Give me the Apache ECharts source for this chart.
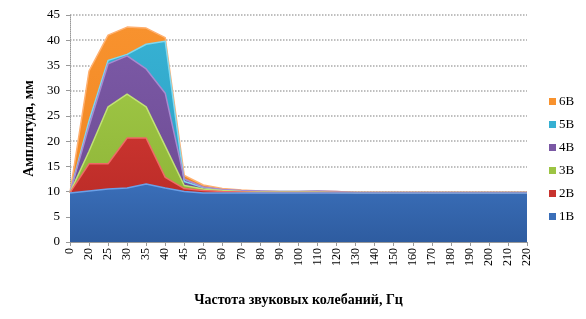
<!DOCTYPE html>
<html>
<head>
<meta charset="utf-8">
<script src="https://cdn.jsdelivr.net/npm/echarts@6/dist/echarts.min.js"></script>
<style>
    html, body { margin: 0; padding: 0; background: #fff; }
    #mychart { width: 586px; height: 319px; }
</style>
</head>
<body>
<div id="mychart"></div>
<script>
    var freq = ['0', '20', '25', '30', '35', '40', '45', '50', '60', '70', '80', '90', '100', '110', '120',
        '130', '140', '150', '160', '170', '180', '190', '200', '210', '220']
    var names = ['6В', '5В', '4В', '3В', '2В', '1В']
    var v6 = [9.8, 33.9, 41.0, 42.6, 42.4, 40.5, 13.2, 11.3, 10.6, 10.3, 10.1, 10.0, 10.0, 10.1, 10.0,
        9.8, 9.8, 9.8, 9.8, 9.8, 9.8, 9.8, 9.8, 9.8, 9.8]
    var v5 = [9.8, 24.0, 36.0, 37.2, 39.2, 39.8, 12.0, 10.8, 10.3, 10.1, 10.0, 10.0, 10.0, 10.0, 9.9,
        9.8, 9.8, 9.8, 9.8, 9.8, 9.8, 9.8, 9.8, 9.8, 9.8]
    var v4 = [9.8, 23.0, 35.3, 36.9, 34.3, 29.5, 12.5, 10.9, 10.4, 10.2, 10.1, 10.0, 10.0, 10.1, 10.0,
        9.8, 9.8, 9.8, 9.8, 9.8, 9.8, 9.8, 9.8, 9.8, 9.8]
    var v3 = [9.8, 18.0, 26.8, 29.3, 26.8, 19.0, 11.2, 10.5, 10.2, 10.0, 9.9, 9.9, 9.9, 9.9, 9.8,
        9.8, 9.8, 9.8, 9.8, 9.8, 9.8, 9.8, 9.8, 9.8, 9.8]
    var v2 = [9.8, 15.5, 15.5, 20.6, 20.6, 12.8, 10.6, 10.2, 10.0, 9.9, 9.8, 9.8, 9.8, 9.8, 9.8,
        9.8, 9.8, 9.8, 9.8, 9.8, 9.8, 9.8, 9.8, 9.8, 9.8]
    var v1 = [9.7, 10.1, 10.5, 10.7, 11.5, 10.7, 10.0, 9.7, 9.7, 9.7, 9.7, 9.7, 9.7, 9.7, 9.7,
        9.7, 9.7, 9.7, 9.7, 9.7, 9.7, 9.7, 9.7, 9.7, 9.7]
    var values = [v6, v5, v4, v3, v2, v1]

    var colTop = ['#F8922E', '#36B0D2', '#7A58A4', '#9CC443', '#C8332E', '#3A6EB8']
    var colBottom = ['#EE8420', '#2A9CC0', '#6A4890', '#8AAF34', '#B42824', '#2E5CA0']
    var colEdge = ['#FFB070', '#7FD8F0', '#A88AD0', '#C2E276', '#EE6A66', '#6AA0E8']

    var chart = echarts.init(document.getElementById('mychart'))
    var series = []
    for (var i = 0; i < names.length; i++) {
        series.push({
            name: names[i],
            type: 'line',
            data: values[i],
            symbol: 'none',
            smooth: false,
            color: colTop[i],
            lineStyle: { color: colEdge[i], width: 1.5 },
            areaStyle: {
                opacity: 1,
                color: new echarts.graphic.LinearGradient(0, 0, 0, 1, [
                    { offset: 0, color: colTop[i] },
                    { offset: 1, color: colBottom[i] }
                ])
            }
        })
    }

    var option = {
        backgroundColor: '#fff',
        animation: false,
        textStyle: { fontFamily: 'Liberation Serif' },
        legend: {
            data: names,
            orient: 'vertical',
            left: 544,
            top: 90,
            icon: 'rect',
            itemWidth: 7,
            itemHeight: 7,
            itemGap: 10,
            textStyle: { fontFamily: 'Liberation Serif', fontSize: 13, color: '#000', padding: [0, 0, 0, -2] }
        },
        grid: { left: 70, right: 59, top: 15, bottom: 77 },
        xAxis: {
            type: 'category',
            boundaryGap: false,
            data: freq,
            name: 'Частота звуковых колебаний, Гц',
            nameLocation: 'middle',
            nameGap: 51,
            nameTextStyle: { fontFamily: 'Liberation Serif', fontSize: 14, fontWeight: 'bold', color: '#000' },
            axisLine: { show: true, lineStyle: { color: '#999' } },
            axisTick: { show: true, length: 4, lineStyle: { color: '#999' } },
            axisLabel: { rotate: 90, interval: 0, fontFamily: 'Liberation Serif', fontSize: 12, color: '#000', margin: 6 }
        },
        yAxis: {
            type: 'value',
            min: 0,
            max: 45,
            interval: 5,
            name: 'Амплитуда, мм',
            nameLocation: 'middle',
            nameGap: 34,
            nameTextStyle: { fontFamily: 'Liberation Serif', fontSize: 14, fontWeight: 'bold', color: '#000' },
            axisLine: { show: true, lineStyle: { color: '#999', type: 'dotted' } },
            axisTick: { show: true, length: 4, lineStyle: { color: '#999' } },
            axisLabel: { fontFamily: 'Liberation Serif', fontSize: 13, color: '#000', margin: 10 },
            splitLine: { show: true, lineStyle: { color: '#aaa', type: 'dotted', width: 1.5 } }
        },
        series: series
    }
    chart.setOption(option)
</script>
</body>
</html>
